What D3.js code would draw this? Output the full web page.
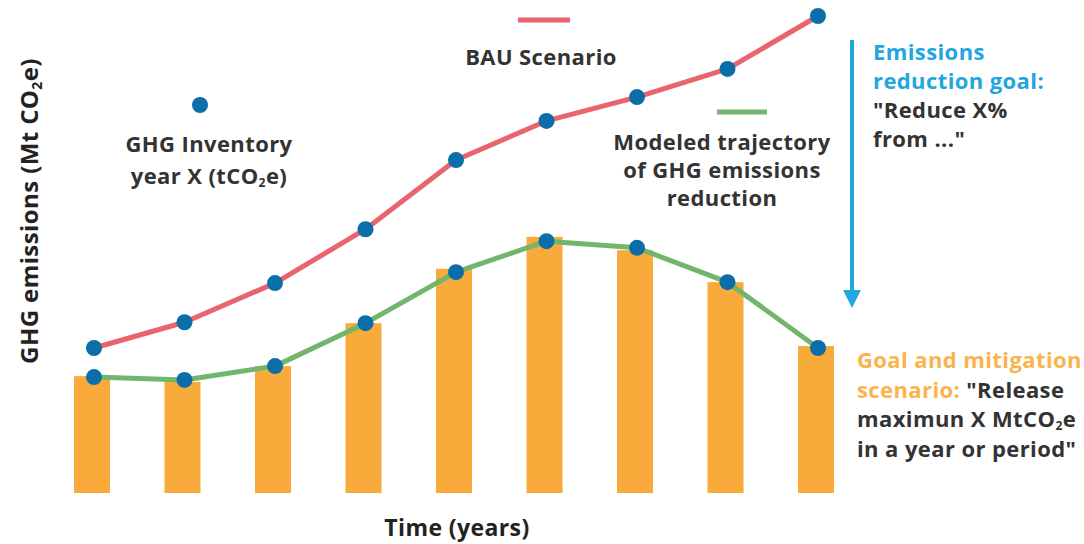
<!DOCTYPE html>
<html>
<head>
<meta charset="utf-8">
<script src="https://cdn.jsdelivr.net/npm/d3@7"></script>
<style>
  body { margin: 0; background: #fff; }
  svg text { font-family: "Open Sans", sans-serif; font-weight: 700; letter-spacing: 0.4px; }
</style>
</head>
<body>
<div id="chart"></div>
<script>
// periods along the time axis (no tick labels in the original)
const periods = [1, 2, 3, 4, 5, 6, 7, 8, 9];
// business-as-usual emissions
const bauValues = [30.4, 35.8, 44.0, 55.3, 69.8, 78.0, 83.0, 88.9, 100];
// modeled reduction trajectory
const modeledValues = [24.3, 23.7, 26.6, 35.6, 46.3, 52.8, 51.4, 44.2, 30.4];
// goal / mitigation scenario bars
const goalValues = [24.5, 23.3, 26.6, 35.6, 47.0, 53.7, 50.9, 44.2, 30.8];

const width = 1084, height = 544;
const red = '#e9646c', green = '#72b56c', blue = '#0b6ea8', orange = '#f8aa3a',
  cyan = '#22a6de', textOrange = '#f9b44c', dark = '#333';

let svg = d3.select('#chart')
  .append('svg')
    .attr('width', width)
    .attr('height', height);

// scales
let xScale = d3.scalePoint()
  .domain(periods)
  .range([92, 816]);

let yScale = d3.scaleLinear()
  .domain([0, 100])
  .range([493, 16]);

const barW = 36;

// bars
svg.append('g')
  .selectAll('rect')
  .data(goalValues)
  .join('rect')
    .attr('x', (d, i) => xScale(periods[i]) - barW / 2)
    .attr('y', d => yScale(d))
    .attr('width', barW)
    .attr('height', d => yScale(0) - yScale(d))
    .attr('fill', orange);

let line = d3.line()
  .x((d, i) => xScale(periods[i]) + 2)
  .y(d => yScale(d));

// the two lines
[[bauValues, red], [modeledValues, green]].forEach(([vals, col]) => {
  svg.append('path')
    .attr('d', line(vals))
    .attr('fill', 'none')
    .attr('stroke', col)
    .attr('stroke-width', 5)
    .attr('stroke-linejoin', 'round');
});

// inventory dots
[bauValues, modeledValues].forEach(vals => {
  svg.append('g')
    .selectAll('circle')
    .data(vals)
    .join('circle')
      .attr('cx', (d, i) => xScale(periods[i]) + 2)
      .attr('cy', d => yScale(d))
      .attr('r', 8)
      .attr('fill', blue);
});

// helper: multi-line text; each line is an array of [text, colour, sub]
function addText(x, y, lines, lh, anchor, size) {
  let t = svg.append('text')
    .attr('x', x)
    .attr('y', y)
    .attr('text-anchor', anchor)
    .attr('font-size', size);
  lines.forEach((parts, li) => {
    parts.forEach((p, pi) => {
      let ts = t.append('tspan').text(p[0]).attr('fill', p[1]);
      if (pi === 0) ts.attr('x', x).attr('y', y + li * lh);
      if (p[2]) ts.attr('font-size', size * 0.55).attr('dy', 3);
      else if (pi > 0 && parts[pi - 1][2]) ts.attr('dy', -3);
    });
  });
  return t;
}

// legend: inventory dot
svg.append('circle').attr('cx', 200).attr('cy', 105).attr('r', 8).attr('fill', blue);
addText(209, 152, [
  [['GHG Inventory', dark]],
  [['year X (tCO', dark], ['2', dark, true], ['e)', dark]]
], 32, 'middle', 22);

// legend: BAU
svg.append('line').attr('x1', 518).attr('x2', 570).attr('y1', 20).attr('y2', 20)
  .attr('stroke', red).attr('stroke-width', 5);
addText(541, 65, [[['BAU Scenario', dark]]], 30, 'middle', 22);

// legend: modeled trajectory
svg.append('line').attr('x1', 717).attr('x2', 767).attr('y1', 112).attr('y2', 112)
  .attr('stroke', green).attr('stroke-width', 5);
addText(722, 150, [
  [['Modeled trajectory', dark]],
  [['of GHG emissions', dark]],
  [['reduction', dark]]
], 28, 'middle', 22);

// reduction arrow
svg.append('line').attr('x1', 852).attr('x2', 852).attr('y1', 40).attr('y2', 292)
  .attr('stroke', cyan).attr('stroke-width', 4);
svg.append('path')
  .attr('d', d3.line()([[843, 290], [861, 290], [852, 308]]))
  .attr('fill', cyan);

addText(873, 60, [
  [['Emissions', cyan]],
  [['reduction goal:', cyan]],
  [['"Reduce X%', dark]],
  [['from ..."', dark]]
], 29, 'start', 22);

addText(857, 368, [
  [['Goal and mitigation', textOrange]],
  [['scenario: ', textOrange], ['"Release', dark]],
  [['maximun X MtCO', dark], ['2', dark, true], ['e', dark]],
  [['in a year or period"', dark]]
], 29.5, 'start', 22);

// axis titles
addText(457, 536, [[['Time (years)', '#222']]], 30, 'middle', 23);

let yl = svg.append('text')
  .attr('transform', 'translate(38,211) rotate(-90)')
  .attr('text-anchor', 'middle')
  .attr('font-size', 24)
  .attr('letter-spacing', '1px')
  .attr('fill', '#222');
yl.append('tspan').text('GHG emissions (Mt CO');
yl.append('tspan').text('2').attr('font-size', 14).attr('dy', 4);
yl.append('tspan').text('e)').attr('dy', -4);
</script>
</body>
</html>
